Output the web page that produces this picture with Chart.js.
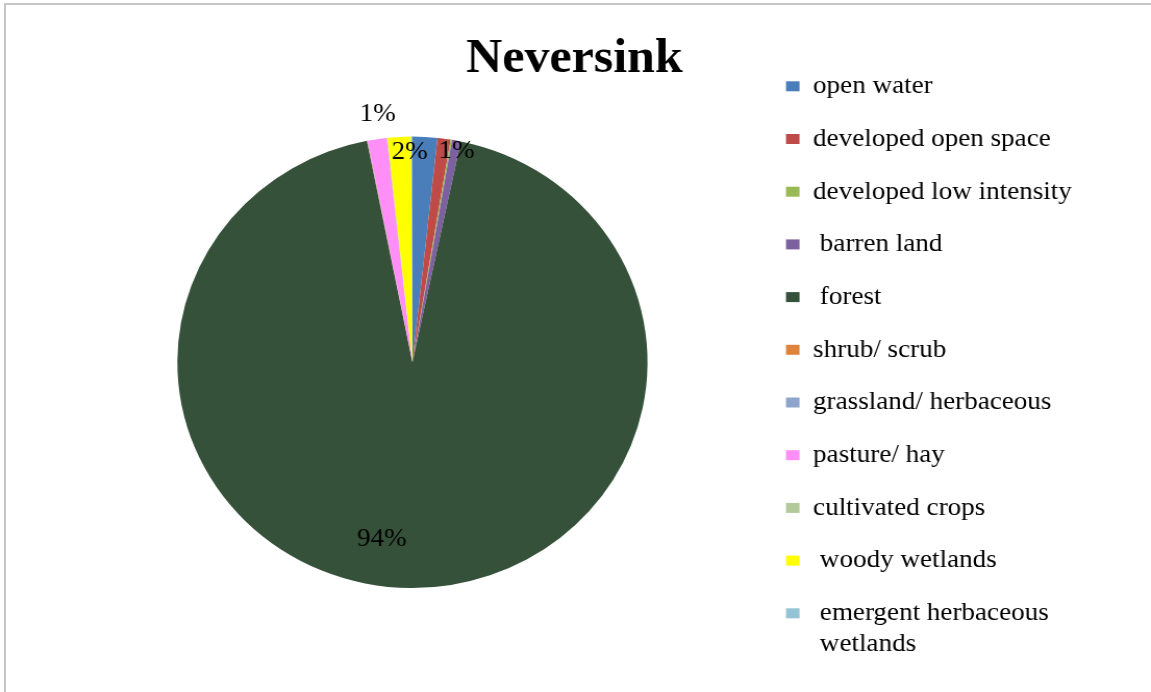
<!DOCTYPE html>
<html>
<head>
<meta charset="utf-8">
<script src="https://cdn.jsdelivr.net/npm/chart.js@4"></script>
<style>
  html, body { margin: 0; padding: 0; background: #fff; }
  #page { position: relative; width: 1151px; height: 692px; overflow: hidden; }
  #frame { position: absolute; left: 4px; top: 3px; width: 1160px; height: 700px;
           border-top: 2px solid #c6c6c6; border-left: 2px solid #c6c6c6; }
  /* the source picture is a little wider than tall, so stretch the chart the same way */
  #wrap { position: absolute; left: 0; top: 0; width: 1105px; height: 692px;
          transform: scaleX(1.0416); transform-origin: 0 0; }
</style>
</head>
<body>
<div id="page">
  <div id="wrap"><canvas id="pie"></canvas></div>
  <div id="frame"></div>
</div>
<script>
const titleText = 'Neversink'

const landCover = [
  'open water',
  'developed open space',
  'developed low intensity',
  ' barren land',
  ' forest',
  'shrub/ scrub',
  'grassland/ herbaceous',
  'pasture/ hay',
  'cultivated crops',
  ' woody wetlands',
  [' emergent herbaceous', ' wetlands']
]

// percent of watershed area
const coverShare = [1.7, 0.9, 0.1, 0.6, 93.6, 0.03, 0.03, 1.3, 0.05, 1.6, 0.09]

const coverColors = [
  '#4a7ebb', '#be4b48', '#98b954', '#7d60a0', '#36513a', '#e0833a',
  '#8ea5cb', '#ff8ef7', '#b4c999', '#ffff00', '#93c3d4'
]

// which slices carry a percent label (the others overlap and were hidden)
const labelIndex = [7, 9, 3, 4]
const labelRadius = [1.116, 0.942, 0.961, 0.785]
const labelNudge = [1, 2.5, 0.5, 9.2]

const serif = "'Liberation Serif', 'Times New Roman', serif"

const percentLabels = {
  id: 'percentLabels',
  afterDatasetsDraw(chart) {
    const ctx = chart.ctx
    const meta = chart.getDatasetMeta(0)
    const total = coverShare.reduce((a, b) => a + b, 0)
    ctx.save()
    ctx.font = '26px ' + serif
    ctx.fillStyle = '#000'
    ctx.textAlign = 'center'
    ctx.textBaseline = 'middle'
    for (let i = 0; i < labelIndex.length; i++) {
      const arc = meta.data[labelIndex[i]]
      const p = arc.getProps(['x', 'y', 'startAngle', 'endAngle', 'outerRadius'], true)
      const mid = (p.startAngle + p.endAngle) / 2 + labelNudge[i] * Math.PI / 180
      const r = p.outerRadius * labelRadius[i]
      const pct = Math.round(coverShare[labelIndex[i]] / total * 100) + '%'
      ctx.fillText(pct, p.x + Math.cos(mid) * r, p.y + Math.sin(mid) * r + 2)
    }
    ctx.restore()
  }
}

const dataPie = {
  labels: landCover,
  datasets: [{
    data: coverShare,
    backgroundColor: coverColors,
    borderWidth: 0
  }]
}

const configPie = {
  type: 'pie',
  data: dataPie,
  options: {
    responsive: true,
    maintainAspectRatio: false,
    animation: false,
    events: [],
    layout: { padding: { left: 64, right: 66, top: 0, bottom: 0 } },
    plugins: {
      title: {
        display: true,
        text: titleText,
        color: '#000',
        font: { family: serif, size: 48, weight: 'bold' },
        padding: { top: 31, bottom: 48 }
      },
      subtitle: {
        display: true,
        position: 'bottom',
        text: '',
        font: { size: 10 },
        padding: { top: 0, bottom: 92 }
      },
      legend: {
        position: 'right',
        align: 'center',
        title: { display: true, text: ' ', font: { size: 10 }, padding: { top: 32, bottom: 0 } },
        labels: {
          color: '#000',
          font: { family: serif, size: 26 },
          boxWidth: 13,
          boxHeight: 10,
          padding: 26.7
        }
      },
      tooltip: { enabled: false }
    }
  },
  plugins: [percentLabels]
}

const myChartPie = new Chart(document.getElementById('pie'), configPie)
</script>
</body>
</html>
